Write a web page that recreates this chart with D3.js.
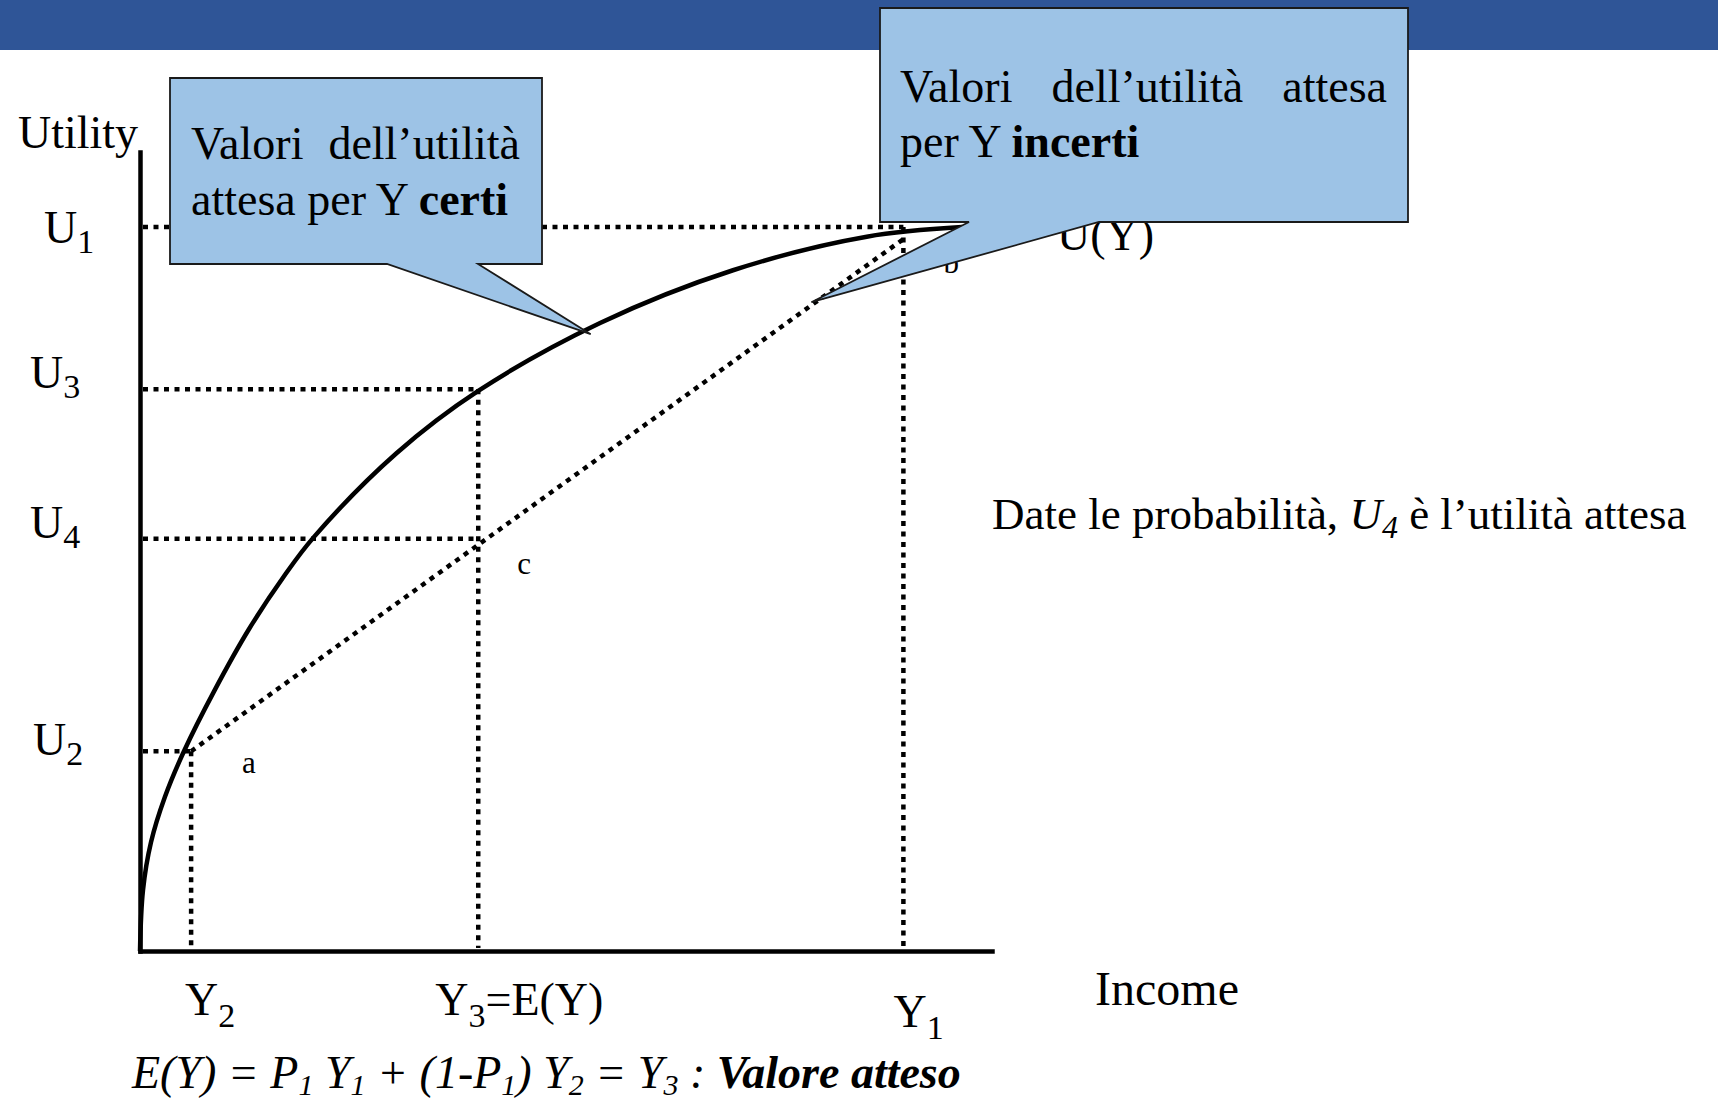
<!DOCTYPE html>
<html>
<head>
<meta charset="utf-8">
<script src="https://cdn.jsdelivr.net/npm/d3@7"></script>
<style>
  body { margin: 0; background: #fff; }
  text { font-family: "Liberation Serif", "Times New Roman", serif; fill: #000; }
</style>
</head>
<body>
<script>
var width = 1718;
var height = 1107;

// levels (axis units 0-100)
var incomeLabels = ["2", "3", "1"];
var incomeValues = [6.0, 39.7, 89.6];
var utilityLabels = ["1", "3", "4", "2"];
var utilityValues = [90.6, 70.3, 51.6, 25.0];

// U(Y)
var curveIncome  = [0, 0.35, 1.29, 2.93, 5.16, 8.69, 12.8, 16.9, 20.4, 30.1, 39.7, 54.0, 69.6, 85.3, 96.5];
var curveUtility = [0, 7.6, 13.6, 19.3, 25.0, 32.5, 40.3, 46.9, 51.8, 62.3, 70.1, 78.6, 85.2, 89.4, 90.6];

// chord a - b
var chordIncome  = [6.0, 89.6];
var chordUtility = [25.0, 89.1];

// where the two callouts point
var certainTip   = [52.9, 77.2];
var uncertainTip = [78.8, 81.2];

var svg = d3.select("body").append("svg")
    .attr("width", width)
    .attr("height", height);

var x = d3.scaleLinear().domain([0, 100]).range([140, 992]);
var y = d3.scaleLinear().domain([0, 100]).range([951, 152]);

svg.append("rect")
    .attr("x", 0).attr("y", 0)
    .attr("width", width).attr("height", 50)
    .attr("fill", "#2F5597");

// axes, no ticks
var xAxis = svg.append("g")
    .attr("transform", "translate(0," + y(0) + ")")
    .call(d3.axisBottom(x).tickValues([]).tickSizeOuter(0));
var yAxis = svg.append("g")
    .attr("transform", "translate(" + x(0) + ",0)")
    .call(d3.axisLeft(y).tickValues([]).tickSizeOuter(0));
svg.selectAll(".domain")
    .attr("stroke", "#000")
    .attr("stroke-width", 4.5)
    .attr("stroke-linecap", "square");

// dotted guides: [utility index, income index]
var guides = [[0, 2], [1, 1], [2, 1], [3, 0]];
var dotted = svg.append("g")
    .attr("fill", "none")
    .attr("stroke", "#000")
    .attr("stroke-width", 4.5)
    .attr("stroke-dasharray", "5 5.5");

dotted.selectAll("line.h")
    .data(guides)
    .enter().append("line")
      .attr("class", "h")
      .attr("x1", x(0) + 3)
      .attr("x2", function(d) { return x(incomeValues[d[1]]); })
      .attr("y1", function(d) { return y(utilityValues[d[0]]); })
      .attr("y2", function(d) { return y(utilityValues[d[0]]); });

dotted.selectAll("line.v")
    .data(guides.filter(function(d) { return d[0] != 2; }))
    .enter().append("line")
      .attr("class", "v")
      .attr("x1", function(d) { return x(incomeValues[d[1]]); })
      .attr("x2", function(d) { return x(incomeValues[d[1]]); })
      .attr("y1", function(d) { return y(utilityValues[d[0]]); })
      .attr("y2", y(0) - 3);

var chord = d3.zip(chordIncome, chordUtility);
dotted.append("path")
    .attr("d", d3.line().x(function(d) { return x(d[0]); }).y(function(d) { return y(d[1]); })(chord));

var curve = d3.zip(curveIncome, curveUtility);
svg.append("path")
    .attr("d", d3.line()
        .x(function(d) { return x(d[0]); })
        .y(function(d) { return y(d[1]); })
        .curve(d3.curveCatmullRom.alpha(0.5))(curve))
    .attr("fill", "none")
    .attr("stroke", "#000")
    .attr("stroke-width", 4.5);

// labels with subscripts
function subLabel(px, py, main, sub, size, subSize, dy, rest) {
  var t = svg.append("text")
      .attr("x", px).attr("y", py)
      .attr("font-size", size);
  t.append("tspan").text(main);
  t.append("tspan").attr("font-size", subSize).attr("dy", dy).text(sub);
  if (rest) t.append("tspan").attr("dy", -dy).text(rest);
  return t;
}

var uLeft = [44, 30, 30, 33];
var uShift = [16, -1, -1, 4];
utilityValues.forEach(function(v, i) {
  subLabel(uLeft[i], y(v) + uShift[i], "U", utilityLabels[i], 46, 34, 10);
});

var yShiftX = [-6, -43, -10];
var yShiftY = [1015, 1015, 1027];
incomeValues.forEach(function(v, i) {
  subLabel(x(v) + yShiftX[i], yShiftY[i], "Y", incomeLabels[i], 46, 34, 12, i == 1 ? "=E(Y)" : null);
});

svg.append("text").attr("x", 18).attr("y", 148).attr("font-size", 46).text("Utility");
svg.append("text").attr("x", 1095).attr("y", 1005).attr("font-size", 48).text("Income");
svg.append("text").attr("x", 1057).attr("y", 250).attr("font-size", 46).text("U(Y)");

svg.append("text").attr("x", x(chordIncome[0]) + 51).attr("y", y(chordUtility[0]) + 22)
    .attr("font-size", 31).text("a");
svg.append("text").attr("x", x(chordIncome[1]) + 40).attr("y", y(chordUtility[1]) + 34)
    .attr("font-size", 31).text("b");
svg.append("text").attr("x", x(incomeValues[1]) + 39).attr("y", y(utilityValues[2]) + 35)
    .attr("font-size", 31).text("c");

var note = svg.append("text").attr("x", 992).attr("y", 529).attr("font-size", 45);
note.append("tspan").text("Date le probabilità, ");
note.append("tspan").attr("font-style", "italic").text("U");
note.append("tspan").attr("font-style", "italic").attr("font-size", 32).attr("dy", 9).text("4");
note.append("tspan").attr("dy", -9).text(" è l’utilità attesa");

// E(Y) formula
var segs = [["E(Y) = P", ""], ["1", "s"], [" Y", ""], ["1", "s"], [" + (1-P", ""], ["1", "s"],
            [") Y", ""], ["2", "s"], [" = Y", ""], ["3", "s"], [" : ", ""], ["Valore atteso", "b"]];
var formula = svg.append("text").attr("x", 132).attr("y", 1088)
    .attr("font-size", 46).attr("font-style", "italic");
var low = false;
segs.forEach(function(s) {
  var ts = formula.append("tspan").text(s[0]);
  if (s[1] == "s") { ts.attr("font-size", 30).attr("dy", 7); low = true; }
  else if (low) { ts.attr("dy", -7); low = false; }
  if (s[1] == "b") ts.attr("font-weight", "bold");
});

// callouts
function callout(box, base, tip) {
  var p = d3.path();
  p.moveTo(box[0], box[1]);
  p.lineTo(box[2], box[1]);
  p.lineTo(box[2], box[3]);
  p.lineTo(base[1], box[3]);
  p.lineTo(tip[0], tip[1]);
  p.lineTo(base[0], box[3]);
  p.lineTo(box[0], box[3]);
  p.closePath();
  svg.append("path")
      .attr("d", p.toString())
      .attr("fill", "#9DC3E6")
      .attr("stroke", "#1a1a1a")
      .attr("stroke-width", 1.8)
      .attr("stroke-linejoin", "miter");
}

function justify(words, x0, x1, baseline, size) {
  var nodes = words.map(function(w) {
    return svg.append("text").attr("y", baseline).attr("font-size", size).text(w);
  });
  var widths = nodes.map(function(n) { return n.node().getComputedTextLength(); });
  var gap = (x1 - x0 - d3.sum(widths)) / (words.length - 1);
  var cx = x0;
  nodes.forEach(function(n, i) { n.attr("x", cx); cx += widths[i] + gap; });
}

function line2(px, py, plain, bold, size) {
  var t = svg.append("text").attr("x", px).attr("y", py).attr("font-size", size);
  t.append("tspan").text(plain);
  t.append("tspan").attr("font-weight", "bold").text(bold);
}

callout([170, 78, 542, 264], [387, 478], [x(certainTip[0]), y(certainTip[1])]);
justify(["Valori", "dell’utilità"], 191, 520, 159, 46);
line2(191, 215, "attesa per Y ", "certi", 46);

callout([880, 8, 1408, 222], [969, 1099], [x(uncertainTip[0]), y(uncertainTip[1])]);
justify(["Valori", "dell’utilità", "attesa"], 900, 1387, 102, 46);
line2(900, 157, "per Y ", "incerti", 46);
</script>
</body>
</html>
